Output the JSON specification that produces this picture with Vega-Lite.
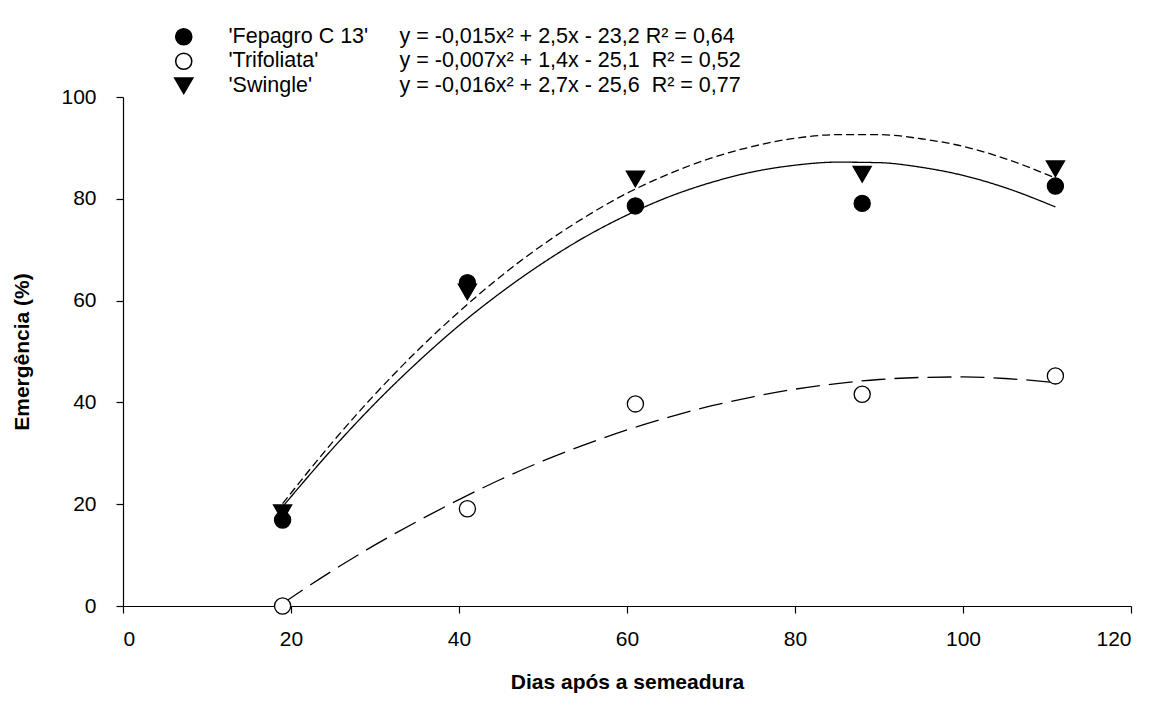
{
  "$schema": "https://vega.github.io/schema/vega-lite/v6.json",
  "width": 1008,
  "height": 509,
  "autosize": {"type": "none"},
  "padding": {"left": 123, "top": 97, "right": 26, "bottom": 100},
  "background": "white",
  "config": {
    "view": {"stroke": null},
    "font": "Liberation Sans",
    "axis": {
      "grid": false,
      "domainColor": "black",
      "domainWidth": 1.2,
      "tickColor": "black",
      "tickWidth": 1.2,
      "tickSize": 7,
      "labelFont": "Liberation Sans",
      "labelFontSize": 21,
      "labelColor": "black",
      "titleFont": "Liberation Sans",
      "titleFontSize": 21,
      "titleFontWeight": "bold",
      "titleColor": "black"
    },
    "legend": {
      "labelFont": "Liberation Sans",
      "labelFontSize": 21.5,
      "labelColor": "black",
      "labelLimit": 600,
      "padding": 0
    }
  },
  "datasets": {
    "pontos": [
      {"dias": 19, "emerg": 16.9, "cultivar": "'Fepagro C 13'"},
      {"dias": 41, "emerg": 63.5, "cultivar": "'Fepagro C 13'"},
      {"dias": 61, "emerg": 78.6, "cultivar": "'Fepagro C 13'"},
      {"dias": 88, "emerg": 79.1, "cultivar": "'Fepagro C 13'"},
      {"dias": 111, "emerg": 82.5, "cultivar": "'Fepagro C 13'"},
      {"dias": 19, "emerg": 0, "cultivar": "'Trifoliata'"},
      {"dias": 41, "emerg": 19.1, "cultivar": "'Trifoliata'"},
      {"dias": 61, "emerg": 39.7, "cultivar": "'Trifoliata'"},
      {"dias": 88, "emerg": 41.6, "cultivar": "'Trifoliata'"},
      {"dias": 111, "emerg": 45.2, "cultivar": "'Trifoliata'"},
      {"dias": 19, "emerg": 18.3, "cultivar": "'Swingle'"},
      {"dias": 41, "emerg": 61.7, "cultivar": "'Swingle'"},
      {"dias": 61, "emerg": 83.9, "cultivar": "'Swingle'"},
      {"dias": 88, "emerg": 84.8, "cultivar": "'Swingle'"},
      {"dias": 111, "emerg": 85.9, "cultivar": "'Swingle'"}
    ],
    "curvas": [
      {"dias": 19, "emerg": 19.5, "eq": "y = -0,015x² + 2,5x - 23,2 R² = 0,64"},
      {"dias": 25, "emerg": 31.0, "eq": "y = -0,015x² + 2,5x - 23,2 R² = 0,64"},
      {"dias": 30, "emerg": 39.8, "eq": "y = -0,015x² + 2,5x - 23,2 R² = 0,64"},
      {"dias": 35, "emerg": 47.8, "eq": "y = -0,015x² + 2,5x - 23,2 R² = 0,64"},
      {"dias": 40, "emerg": 55.1, "eq": "y = -0,015x² + 2,5x - 23,2 R² = 0,64"},
      {"dias": 45, "emerg": 61.6, "eq": "y = -0,015x² + 2,5x - 23,2 R² = 0,64"},
      {"dias": 50, "emerg": 67.4, "eq": "y = -0,015x² + 2,5x - 23,2 R² = 0,64"},
      {"dias": 55, "emerg": 72.5, "eq": "y = -0,015x² + 2,5x - 23,2 R² = 0,64"},
      {"dias": 60, "emerg": 76.8, "eq": "y = -0,015x² + 2,5x - 23,2 R² = 0,64"},
      {"dias": 65, "emerg": 80.4, "eq": "y = -0,015x² + 2,5x - 23,2 R² = 0,64"},
      {"dias": 70, "emerg": 83.2, "eq": "y = -0,015x² + 2,5x - 23,2 R² = 0,64"},
      {"dias": 75, "emerg": 85.3, "eq": "y = -0,015x² + 2,5x - 23,2 R² = 0,64"},
      {"dias": 80, "emerg": 86.6, "eq": "y = -0,015x² + 2,5x - 23,2 R² = 0,64"},
      {"dias": 85, "emerg": 87.2, "eq": "y = -0,015x² + 2,5x - 23,2 R² = 0,64"},
      {"dias": 90, "emerg": 87.1, "eq": "y = -0,015x² + 2,5x - 23,2 R² = 0,64"},
      {"dias": 95, "emerg": 86.2, "eq": "y = -0,015x² + 2,5x - 23,2 R² = 0,64"},
      {"dias": 100, "emerg": 84.6, "eq": "y = -0,015x² + 2,5x - 23,2 R² = 0,64"},
      {"dias": 105, "emerg": 82.2, "eq": "y = -0,015x² + 2,5x - 23,2 R² = 0,64"},
      {"dias": 111, "emerg": 78.4, "eq": "y = -0,015x² + 2,5x - 23,2 R² = 0,64"},
      {"dias": 19, "emerg": 0.5, "eq": "y = -0,007x² + 1,4x - 25,1 \u00a0R² = 0,52"},
      {"dias": 25, "emerg": 7.0, "eq": "y = -0,007x² + 1,4x - 25,1 \u00a0R² = 0,52"},
      {"dias": 30, "emerg": 12.0, "eq": "y = -0,007x² + 1,4x - 25,1 \u00a0R² = 0,52"},
      {"dias": 35, "emerg": 16.6, "eq": "y = -0,007x² + 1,4x - 25,1 \u00a0R² = 0,52"},
      {"dias": 40, "emerg": 20.9, "eq": "y = -0,007x² + 1,4x - 25,1 \u00a0R² = 0,52"},
      {"dias": 45, "emerg": 24.9, "eq": "y = -0,007x² + 1,4x - 25,1 \u00a0R² = 0,52"},
      {"dias": 50, "emerg": 28.5, "eq": "y = -0,007x² + 1,4x - 25,1 \u00a0R² = 0,52"},
      {"dias": 55, "emerg": 31.7, "eq": "y = -0,007x² + 1,4x - 25,1 \u00a0R² = 0,52"},
      {"dias": 60, "emerg": 34.6, "eq": "y = -0,007x² + 1,4x - 25,1 \u00a0R² = 0,52"},
      {"dias": 65, "emerg": 37.1, "eq": "y = -0,007x² + 1,4x - 25,1 \u00a0R² = 0,52"},
      {"dias": 70, "emerg": 39.3, "eq": "y = -0,007x² + 1,4x - 25,1 \u00a0R² = 0,52"},
      {"dias": 75, "emerg": 41.1, "eq": "y = -0,007x² + 1,4x - 25,1 \u00a0R² = 0,52"},
      {"dias": 80, "emerg": 42.6, "eq": "y = -0,007x² + 1,4x - 25,1 \u00a0R² = 0,52"},
      {"dias": 85, "emerg": 43.7, "eq": "y = -0,007x² + 1,4x - 25,1 \u00a0R² = 0,52"},
      {"dias": 90, "emerg": 44.5, "eq": "y = -0,007x² + 1,4x - 25,1 \u00a0R² = 0,52"},
      {"dias": 95, "emerg": 44.9, "eq": "y = -0,007x² + 1,4x - 25,1 \u00a0R² = 0,52"},
      {"dias": 100, "emerg": 45.0, "eq": "y = -0,007x² + 1,4x - 25,1 \u00a0R² = 0,52"},
      {"dias": 105, "emerg": 44.7, "eq": "y = -0,007x² + 1,4x - 25,1 \u00a0R² = 0,52"},
      {"dias": 111, "emerg": 43.9, "eq": "y = -0,007x² + 1,4x - 25,1 \u00a0R² = 0,52"},
      {"dias": 19, "emerg": 20.1, "eq": "y = -0,016x² + 2,7x - 25,6 \u00a0R² = 0,77"},
      {"dias": 25, "emerg": 32.3, "eq": "y = -0,016x² + 2,7x - 25,6 \u00a0R² = 0,77"},
      {"dias": 30, "emerg": 41.6, "eq": "y = -0,016x² + 2,7x - 25,6 \u00a0R² = 0,77"},
      {"dias": 35, "emerg": 50.1, "eq": "y = -0,016x² + 2,7x - 25,6 \u00a0R² = 0,77"},
      {"dias": 40, "emerg": 57.8, "eq": "y = -0,016x² + 2,7x - 25,6 \u00a0R² = 0,77"},
      {"dias": 45, "emerg": 64.8, "eq": "y = -0,016x² + 2,7x - 25,6 \u00a0R² = 0,77"},
      {"dias": 50, "emerg": 71.0, "eq": "y = -0,016x² + 2,7x - 25,6 \u00a0R² = 0,77"},
      {"dias": 55, "emerg": 76.4, "eq": "y = -0,016x² + 2,7x - 25,6 \u00a0R² = 0,77"},
      {"dias": 60, "emerg": 81.1, "eq": "y = -0,016x² + 2,7x - 25,6 \u00a0R² = 0,77"},
      {"dias": 65, "emerg": 84.9, "eq": "y = -0,016x² + 2,7x - 25,6 \u00a0R² = 0,77"},
      {"dias": 70, "emerg": 88.0, "eq": "y = -0,016x² + 2,7x - 25,6 \u00a0R² = 0,77"},
      {"dias": 75, "emerg": 90.3, "eq": "y = -0,016x² + 2,7x - 25,6 \u00a0R² = 0,77"},
      {"dias": 80, "emerg": 91.9, "eq": "y = -0,016x² + 2,7x - 25,6 \u00a0R² = 0,77"},
      {"dias": 85, "emerg": 92.6, "eq": "y = -0,016x² + 2,7x - 25,6 \u00a0R² = 0,77"},
      {"dias": 90, "emerg": 92.6, "eq": "y = -0,016x² + 2,7x - 25,6 \u00a0R² = 0,77"},
      {"dias": 95, "emerg": 91.8, "eq": "y = -0,016x² + 2,7x - 25,6 \u00a0R² = 0,77"},
      {"dias": 100, "emerg": 90.3, "eq": "y = -0,016x² + 2,7x - 25,6 \u00a0R² = 0,77"},
      {"dias": 105, "emerg": 87.9, "eq": "y = -0,016x² + 2,7x - 25,6 \u00a0R² = 0,77"},
      {"dias": 111, "emerg": 84.1, "eq": "y = -0,016x² + 2,7x - 25,6 \u00a0R² = 0,77"}
    ]
  },
  "layer": [
    {
      "data": {"name": "curvas"},
      "mark": {"type": "line", "strokeWidth": 1.3, "interpolate": "monotone", "clip": false},
      "encoding": {
        "x": {"field": "dias", "type": "quantitative", "scale": {"domain": [0, 120], "nice": false},
          "axis": {"values": [0, 20, 40, 60, 80, 100, 120], "title": "Dias após a semeadura", "labelPadding": 15, "titlePadding": 22}},
        "y": {"field": "emerg", "type": "quantitative", "scale": {"domain": [0, 100], "nice": false},
          "axis": {"values": [0, 20, 40, 60, 80, 100], "title": "Emergência (%)", "labelPadding": 20, "titlePadding": 28}},
        "strokeDash": {"field": "eq", "type": "nominal",
          "scale": {"domain": ["y = -0,015x² + 2,5x - 23,2 R² = 0,64", "y = -0,007x² + 1,4x - 25,1 \u00a0R² = 0,52", "y = -0,016x² + 2,7x - 25,6 \u00a0R² = 0,77"], "range": [[1, 0], [24, 9], [8, 4]]},
          "legend": null},
        "stroke": {"field": "eq", "type": "nominal",
          "scale": {"domain": ["y = -0,015x² + 2,5x - 23,2 R² = 0,64", "y = -0,007x² + 1,4x - 25,1 \u00a0R² = 0,52", "y = -0,016x² + 2,7x - 25,6 \u00a0R² = 0,77"], "range": ["black", "black", "black"]},
          "legend": {"title": null, "orient": "none", "legendX": 255, "legendY": -71, "symbolType": "stroke", "symbolSize": 0, "symbolStrokeWidth": 0, "symbolOpacity": 0, "labelOffset": 0, "rowPadding": 1.5}}
      }
    },
    {
      "data": {"name": "pontos"},
      "mark": {"type": "point", "filled": true, "stroke": "black", "strokeWidth": 1.3, "opacity": 1, "clip": false},
      "encoding": {
        "x": {"field": "dias", "type": "quantitative"},
        "y": {"field": "emerg", "type": "quantitative"},
        "shape": {"field": "cultivar", "type": "nominal",
          "scale": {"domain": ["'Fepagro C 13'", "'Trifoliata'", "'Swingle'"], "range": ["circle", "circle", "triangle-down"]},
          "legend": {"title": null, "orient": "none", "legendX": 50, "legendY": -71, "labelOffset": 34, "rowPadding": 1.5,
            "encode": {"symbols": {"update": {"stroke": {"value": "black"}, "strokeWidth": {"value": 1.3}, "opacity": {"value": 1}}}}}},
        "fill": {"field": "cultivar", "type": "nominal",
          "scale": {"domain": ["'Fepagro C 13'", "'Trifoliata'", "'Swingle'"], "range": ["black", "white", "black"]},
          "legend": {"title": null, "orient": "none", "legendX": 50, "legendY": -71, "labelOffset": 34, "rowPadding": 1.5,
            "encode": {"symbols": {"update": {"stroke": {"value": "black"}, "strokeWidth": {"value": 1.3}, "opacity": {"value": 1}}}}}},
        "size": {"field": "cultivar", "type": "nominal",
          "scale": {"type": "ordinal", "domain": ["'Fepagro C 13'", "'Trifoliata'", "'Swingle'"], "range": [260, 260, 330]},
          "legend": {"title": null, "orient": "none", "legendX": 50, "legendY": -71, "labelOffset": 34, "rowPadding": 1.5,
            "encode": {"symbols": {"update": {"stroke": {"value": "black"}, "strokeWidth": {"value": 1.3}, "opacity": {"value": 1}}}}}}
      }
    }
  ]
}
